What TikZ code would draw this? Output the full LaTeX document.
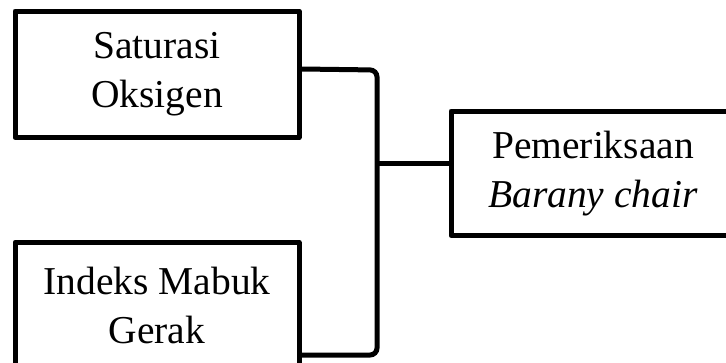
\documentclass[tikz,border=0pt]{standalone}
\usepackage{fontspec}
\setmainfont{Liberation Serif}
\begin{document}
\begin{tikzpicture}[x=1pt,y=-1pt,
  box/.style={draw, line width=5pt, line join=round, minimum width=284pt, inner sep=0pt, align=center,
    font=\fontsize{39.5pt}{49pt}\selectfont},
  conn/.style={draw, line width=5pt, rounded corners=7pt}]
\useasboundingbox (0,0) rectangle (726,362);
\clip (0,0) rectangle (726,362);
\node[box, minimum height=126.5pt] (b1) at (157,74.25) {Saturasi\\Oksigen};
\node[box, minimum height=126.5pt] (b2) at (157,305.5) {Indeks Mabuk\\Gerak};
\node[box, minimum height=124.5pt] (b3) at (593,173.25) {Pemeriksaan\\\textit{Barany chair}};
\coordinate (top) at (377,70);
\coordinate (bot) at (377,355);
\coordinate (j) at (377,163);
\draw[conn] ([yshift=5.25pt]b1.east) -- (top) -- (bot) -- (bot -| b2.east);
\draw[conn] (j) -- (j -| b3.west);
\end{tikzpicture}
\end{document}
